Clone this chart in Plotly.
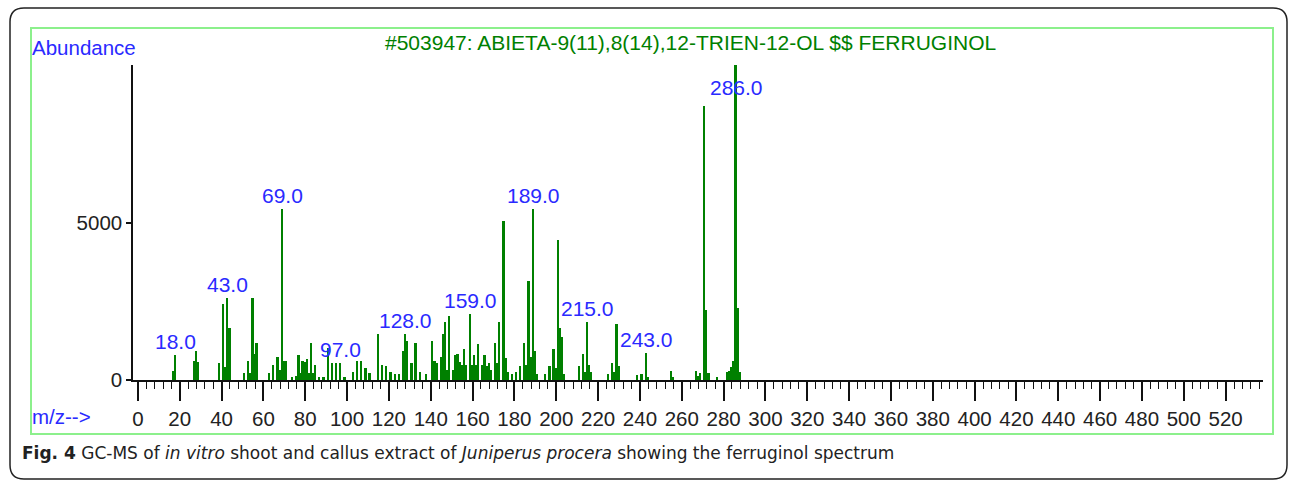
import plotly.graph_objects as go

# ---- data ----
mz = [17, 18, 27, 28, 29, 39, 41, 42, 43, 44, 51, 53, 54, 55, 56, 57, 63, 65, 67, 68,
      69, 70, 71, 74, 76, 77, 78, 79, 80, 81, 82, 83, 84, 85, 87, 89, 91, 93, 95, 97,
      99, 103, 105, 107, 109, 111, 115, 117, 119, 121, 123, 125, 127, 128, 129, 131, 133, 135, 138, 141,
      142, 143, 145, 146, 147, 148, 149, 151, 152, 153, 154, 155, 156, 157, 159, 160, 161, 162, 163, 165,
      166, 167, 168, 169, 171, 172, 173, 175, 176, 177, 179, 181, 183, 185, 186, 187, 188, 189, 190, 191,
      195, 197, 199, 200, 201, 202, 203, 204, 211, 213, 214, 215, 216, 217, 225, 227, 228, 229, 230, 239,
      241, 243, 244, 255, 256, 267, 268, 269, 271, 272, 273, 277, 282, 283, 284, 285, 286, 287, 288]
abundance = [290, 800, 600, 930, 580, 530, 2415, 410, 2600, 1650, 220, 600, 235, 2600, 820, 1170, 220, 480, 745, 320,
             5420, 600, 600, 100, 120, 800, 220, 600, 580, 670, 220, 1190, 220, 480, 100, 100, 1010, 530, 530, 530,
             100, 270, 600, 600, 390, 220, 1460, 480, 430, 270, 200, 200, 930, 1460, 1245, 530, 1190, 270, 200, 1245,
             600, 530, 745, 1460, 1830, 320, 2040, 320, 780, 820, 565, 480, 1000, 480, 2095, 480, 800, 480, 1140, 480,
             800, 430, 530, 320, 1190, 530, 1830, 5060, 690, 270, 200, 270, 430, 1190, 480, 3135, 745, 5420, 930, 200,
             200, 430, 990, 390, 4435, 1650, 1380, 200, 430, 820, 270, 1840, 480, 270, 200, 530, 270, 1775, 430, 150,
             200, 870, 100, 290, 100, 300, 130, 210, 8700, 2235, 210, 80, 265, 300, 425, 605, 10000, 2290, 265]
labeled_mz = [18, 43, 69, 97, 128, 159, 189, 215, 243, 286]
x_ticks = list(range(0, 521, 20))
y_ticks = [0, 5000]

TITLE = "#503947: ABIETA-9(11),8(14),12-TRIEN-12-OL $$ FERRUGINOL"
CAPTION = ("<b>Fig. 4</b> GC-MS of <i>in vitro</i> shoot and callus extract of "
           "<i>Juniperus procera</i> showing the ferruginol spectrum")

W, H = 1290, 481
SANS = "Liberation Sans, Arial, sans-serif"
BLUE = "#2a2aff"
GREEN = "#008000"
LABEL_CAP = 8850

def px(x):
    return x / W

def py(y):
    return 1 - y / H

fig = go.Figure()
fig.add_trace(go.Bar(x=mz, y=abundance, width=0.85,
                     marker=dict(color=GREEN, line=dict(width=0)),
                     hoverinfo="x+y"))

ab = dict(zip(mz, abundance))
for m in labeled_mz:
    fig.add_annotation(x=m, y=min(ab[m], LABEL_CAP), xref="x", yref="y",
                       text=f"{m:.1f}", showarrow=False, xanchor="center", yanchor="bottom",
                       font=dict(family=SANS, size=21, color=BLUE))

fig.add_annotation(x=px(30), y=py(47), xref="paper", yref="paper", text="Abundance",
                   showarrow=False, xanchor="left", yanchor="middle",
                   font=dict(family=SANS, size=20.5, color=BLUE))
fig.add_annotation(x=px(383), y=py(42), xref="paper", yref="paper", text=TITLE,
                   showarrow=False, xanchor="left", yanchor="middle",
                   font=dict(family=SANS, size=21, color=GREEN))
fig.add_annotation(x=px(30), y=py(416), xref="paper", yref="paper", text="m/z-->",
                   showarrow=False, xanchor="left", yanchor="middle",
                   font=dict(family=SANS, size=20.5, color=BLUE))
fig.add_annotation(x=px(20), y=py(453), xref="paper", yref="paper", text=CAPTION,
                   showarrow=False, xanchor="left", yanchor="middle",
                   font=dict(family="DejaVu Sans, sans-serif", size=17, color="#222"))

# green inner frame
fig.add_shape(type="rect", xref="paper", yref="paper",
              x0=px(31), x1=px(1273), y0=py(434), y1=py(28),
              line=dict(color="#8cf08c", width=2))

# outer rounded black frame
L, R, T, B, r = 10, 1287, 8, 479, 14
path = (f"M {px(L + r)} {py(T)} L {px(R - r)} {py(T)} Q {px(R)} {py(T)} {px(R)} {py(T + r)} "
        f"L {px(R)} {py(B - r)} Q {px(R)} {py(B)} {px(R - r)} {py(B)} "
        f"L {px(L + r)} {py(B)} Q {px(L)} {py(B)} {px(L)} {py(B - r)} "
        f"L {px(L)} {py(T + r)} Q {px(L)} {py(T)} {px(L + r)} {py(T)} Z")
fig.add_shape(type="path", xref="paper", yref="paper", path=path,
              line=dict(color="#222", width=1.5))

fig.update_layout(
    width=W, height=H,
    margin=dict(l=0, r=0, t=0, b=0, autoexpand=False),
    paper_bgcolor="white", plot_bgcolor="white",
    showlegend=False, bargap=0,
    xaxis=dict(domain=[px(133.3), px(1263.3)], range=[-2.2, 538], automargin=False,
               tickmode="array", tickvals=x_ticks, ticktext=[str(v) for v in x_ticks],
               tickangle=0,
               ticks="outside", ticklen=19, tickwidth=1.5, tickcolor="#111",
               minor=dict(dtick=4, tick0=0, ticks="outside", ticklen=7, tickwidth=1.3, tickcolor="#111"),
               showline=True, linecolor="#111", linewidth=2,
               showgrid=False, zeroline=False,
               tickfont=dict(family=SANS, size=20.5, color="#222")),
    yaxis=dict(domain=[py(380), py(65)], range=[0, 10000], automargin=False,
               tickmode="array", tickvals=y_ticks, ticktext=[str(v) for v in y_ticks],
               ticks="outside", ticklen=5, tickwidth=1.5, tickcolor="#111",
               showline=True, linecolor="#111", linewidth=2,
               showgrid=False, zeroline=False,
               tickfont=dict(family=SANS, size=20.5, color="#222")),
)

fig.write_html("out.html")
